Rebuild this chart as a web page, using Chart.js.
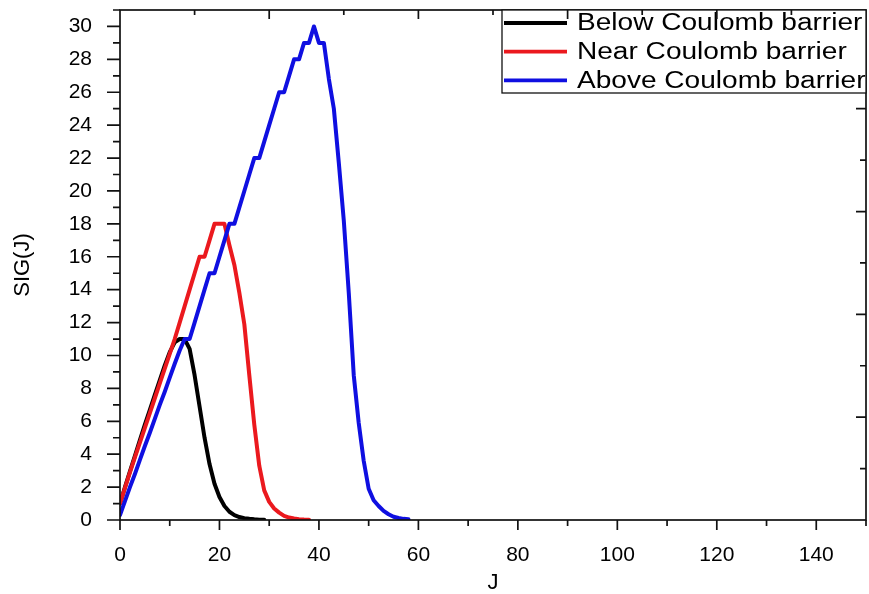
<!DOCTYPE html>
<html>
<head>
<meta charset="utf-8">
<script src="https://cdn.jsdelivr.net/npm/chart.js@4.4.1/dist/chart.umd.min.js"></script>
<style>
    html, body { margin: 0; padding: 0; background: #fff; }
</style>
</head>
<body>
<canvas id="chart" width="869" height="594"></canvas>
<script>
// data (J, SIG(J))

const jBelow = [0,1,2,3,4,5,6,7,8,9,10,11,12,13,14,15,16,17,18,19,20,21,22,23,24,25,26,27,28,29];
const sigBelow = [1,2,2.95,3.9,4.85,5.8,6.7,7.6,8.5,9.4,10.2,10.8,11,11,10.4,8.8,6.9,5.0,3.4,2.2,
    1.4,0.85,0.5,0.3,0.18,0.11,0.07,0.04,0.02,0.01];

const jNear = [0,1,2,3,4,5,6,7,8,9,10,11,12,13,14,15,16,17,18,19,20,21,22,23,24,25,26,27,28,29,
    30,31,32,33,34,35,36,37,38];
const sigNear = [1,1.95,2.9,3.8,4.7,5.6,6.5,7.4,8.3,9.2,10.1,11,12,13,14,15,16,16,17,18,18,18,
    16.7,15.5,13.8,11.9,8.8,5.8,3.3,1.8,1.1,0.7,0.45,0.25,0.15,0.09,0.05,0.03,0.02];

const jAbove = [0,1,2,3,4,5,6,7,8,9,10,11,12,13,14,15,16,17,18,19,20,21,22,23,24,25,26,27,28,29,
    30,31,32,33,34,35,36,37,38,39,40,41,42,43,44,45,46,47,48,49,50,51,52,53,54,55,56,57,58];
const sigAbove = [0.3,1.15,2.0,2.8,3.65,4.5,5.3,6.15,7.0,7.8,8.65,9.5,10.3,
    11,11,12,13,14,15,15,16,17,18,18,19,20,21,22,22,23,24,25,26,26,27,28,28,29,29,30,29,29,
    26.8,25.0,21.7,18.2,13.8,8.8,5.9,3.6,1.9,1.2,0.85,0.55,0.35,0.2,0.12,0.07,0.04];

const seriesLabels = ['Below Coulomb barrier', 'Near Coulomb barrier', 'Above Coulomb barrier'];
const seriesColors = ['#000000', 'rgb(235,25,30)', 'rgb(15,15,225)'];

// axis ranges / ticks
const xMin = 0, xMax = 150, xStep = 10, xLabelStep = 20;
const yMin = 0, yMax = 31, yStep = 1, yLabelStep = 2;
const topTickStep = 15;      // the frame's top edge has its own ticks
const rightTickStep = 3.125; // and so does the right edge

const FONT = '"Liberation Sans", Arial, sans-serif';

function toPoints(xs, ys){
    return xs.map((x,i)=>({x, y: ys[i]}));
}

// frame + tick marks, Origin style (out on left/bottom, in on top/right)
const framePlugin = {
    id: 'frame',
    afterDatasetsDraw(chart){
        const {ctx, chartArea: a, scales: {x, y}} = chart;
        ctx.save();
        ctx.strokeStyle = '#111';
        ctx.lineWidth = 1.7;
        ctx.beginPath();

        x.ticks.forEach(t=>{
            const px = x.getPixelForValue(t.value);
            const len = t.value % xLabelStep === 0 ? 10 : 6;
            ctx.moveTo(px, a.bottom); ctx.lineTo(px, a.bottom + len);
        });
        y.ticks.forEach(t=>{
            const py = y.getPixelForValue(t.value);
            const len = t.value % yLabelStep === 0 ? 13 : 7;
            ctx.moveTo(a.left, py); ctx.lineTo(a.left - len, py);
        });
        for(let v = topTickStep; v < xMax; v += topTickStep){
            const px = x.getPixelForValue(v);
            const len = v % (topTickStep*2) === 0 ? 9 : 5;
            ctx.moveTo(px, a.top); ctx.lineTo(px, a.top + len);
        }
        for(let v = rightTickStep; v < yMax; v += rightTickStep){
            const py = y.getPixelForValue(v);
            const len = Math.round(v / rightTickStep) % 2 === 0 ? 10 : 6;
            ctx.moveTo(a.right, py); ctx.lineTo(a.right - len, py);
        }
        ctx.stroke();
        ctx.strokeRect(a.left, a.top, a.right - a.left, a.bottom - a.top);
        ctx.restore();
    }
};

// boxed legend in the top right corner
const legendPlugin = {
    id: 'boxLegend',
    afterDraw(chart){
        const {ctx, chartArea: a} = chart;
        const boxLeft = a.right - 364, boxBottom = a.top + 83;
        ctx.save();
        ctx.fillStyle = '#fff';
        ctx.fillRect(boxLeft, a.top, a.right - boxLeft, boxBottom - a.top);
        ctx.strokeStyle = '#111';
        ctx.lineWidth = 1.3;
        ctx.strokeRect(boxLeft, a.top, a.right - boxLeft, boxBottom - a.top);

        chart.data.datasets.forEach((ds,i)=>{
            const rowY = a.top + 13 + i*28.7;
            ctx.strokeStyle = ds.borderColor;
            ctx.lineWidth = 3.8;
            ctx.beginPath();
            ctx.moveTo(boxLeft + 2, rowY);
            ctx.lineTo(boxLeft + 65, rowY);
            ctx.stroke();

            ctx.save();
            ctx.translate(boxLeft + 75, rowY);
            ctx.scale(1.22, 1);
            ctx.fillStyle = '#000';
            ctx.font = '23px ' + FONT;
            ctx.textBaseline = 'middle';
            ctx.fillText(ds.label, 0, 1);
            ctx.restore();
        });

        // top ticks run over the legend box as well
        const x = chart.scales.x;
        ctx.strokeStyle = '#111';
        ctx.lineWidth = 1.7;
        ctx.beginPath();
        for(let v = topTickStep; v < xMax; v += topTickStep){
            const px = x.getPixelForValue(v);
            if(px < boxLeft) continue;
            const len = v % (topTickStep*2) === 0 ? 9 : 5;
            ctx.moveTo(px, a.top); ctx.lineTo(px, a.top + len);
        }
        ctx.stroke();
        ctx.restore();
    }
};

// later series sit on top, as in the original
const datasets = [
    {label: seriesLabels[0], data: toPoints(jBelow, sigBelow), borderColor: seriesColors[0], order: 3},
    {label: seriesLabels[1], data: toPoints(jNear, sigNear), borderColor: seriesColors[1], order: 2},
    {label: seriesLabels[2], data: toPoints(jAbove, sigAbove), borderColor: seriesColors[2], order: 1},
].map(ds=>({
    ...ds,
    borderWidth: 4,
    pointRadius: 0,
    tension: 0,
    fill: false,
    borderJoinStyle: 'round',
    borderCapStyle: 'round',
}));

new Chart(document.getElementById('chart'), {
    type: 'line',
    data: {datasets},
    plugins: [framePlugin, legendPlugin],
    options: {
        responsive: false,
        animation: false,
        devicePixelRatio: 1,
        layout: {padding: {top: 10, right: 3, left: 0, bottom: 0}},
        plugins: {
            legend: {display: false},
            tooltip: {enabled: false}
        },
        scales: {
            x: {
                type: 'linear',
                min: xMin,
                max: xMax,
                grid: {display: false},
                border: {display: false},
                ticks: {
                    stepSize: xStep,
                    autoSkip: false,
                    maxRotation: 0,
                    padding: 15,
                    color: '#000',
                    font: {family: FONT, size: 21},
                    callback: v => v % xLabelStep === 0 ? v : ''
                },
                title: {
                    display: true,
                    text: 'J',
                    color: '#000',
                    font: {family: FONT, size: 22},
                    padding: {top: 0, bottom: -2}
                },
                afterFit: s => {
                    s.height = 74;
                    s.paddingLeft = 0;
                    s.paddingRight = 0;
                }
            },
            y: {
                type: 'linear',
                min: yMin,
                max: yMax,
                grid: {display: false},
                border: {display: false},
                ticks: {
                    stepSize: yStep,
                    autoSkip: false,
                    padding: 20,
                    color: '#000',
                    font: {family: FONT, size: 21},
                    callback: v => v % yLabelStep === 0 ? v : ''
                },
                title: {
                    display: true,
                    text: 'SIG(J)',
                    color: '#000',
                    font: {family: FONT, size: 22},
                    padding: {top: 10, bottom: 0}
                },
                afterFit: s => {
                    s.width = 120;
                    s.paddingTop = 0;
                    s.paddingBottom = 0;
                }
            }
        }
    }
});
</script>
</body>
</html>
